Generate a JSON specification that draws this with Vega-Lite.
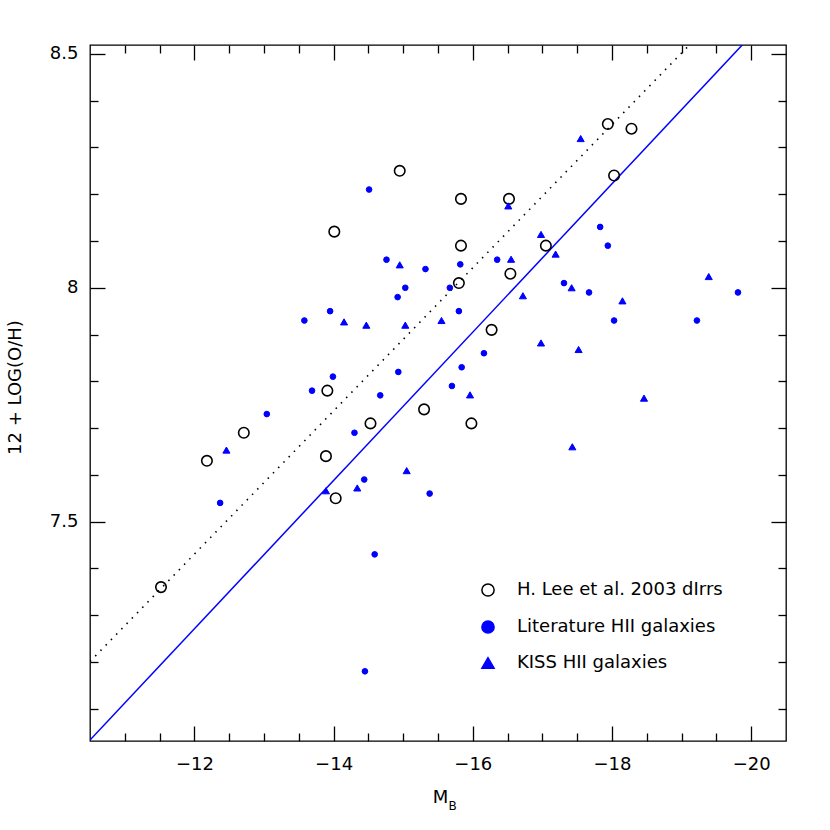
{
  "$schema": "https://vega.github.io/schema/vega-lite/v6.json",
  "width": 696,
  "height": 696,
  "autosize": {"type": "none"},
  "padding": {"left": 90, "top": 45, "right": 44, "bottom": 89},
  "background": "white",
  "datasets": {
    "points": [
      {"series": "H. Lee et al. 2003 dIrrs", "mb": -14.01, "oh": 8.12},
      {"series": "H. Lee et al. 2003 dIrrs", "mb": -13.91, "oh": 7.78},
      {"series": "H. Lee et al. 2003 dIrrs", "mb": -12.71, "oh": 7.69},
      {"series": "H. Lee et al. 2003 dIrrs", "mb": -12.18, "oh": 7.63},
      {"series": "H. Lee et al. 2003 dIrrs", "mb": -13.89, "oh": 7.64},
      {"series": "H. Lee et al. 2003 dIrrs", "mb": -14.03, "oh": 7.55},
      {"series": "H. Lee et al. 2003 dIrrs", "mb": -11.52, "oh": 7.36},
      {"series": "H. Lee et al. 2003 dIrrs", "mb": -14.95, "oh": 8.25},
      {"series": "H. Lee et al. 2003 dIrrs", "mb": -15.83, "oh": 8.19},
      {"series": "H. Lee et al. 2003 dIrrs", "mb": -16.52, "oh": 8.19},
      {"series": "H. Lee et al. 2003 dIrrs", "mb": -15.83, "oh": 8.09},
      {"series": "H. Lee et al. 2003 dIrrs", "mb": -17.05, "oh": 8.09},
      {"series": "H. Lee et al. 2003 dIrrs", "mb": -16.54, "oh": 8.03},
      {"series": "H. Lee et al. 2003 dIrrs", "mb": -15.80, "oh": 8.01},
      {"series": "H. Lee et al. 2003 dIrrs", "mb": -16.27, "oh": 7.91},
      {"series": "H. Lee et al. 2003 dIrrs", "mb": -15.30, "oh": 7.74},
      {"series": "H. Lee et al. 2003 dIrrs", "mb": -15.98, "oh": 7.71},
      {"series": "H. Lee et al. 2003 dIrrs", "mb": -14.53, "oh": 7.71},
      {"series": "H. Lee et al. 2003 dIrrs", "mb": -17.94, "oh": 8.35},
      {"series": "H. Lee et al. 2003 dIrrs", "mb": -18.28, "oh": 8.34},
      {"series": "H. Lee et al. 2003 dIrrs", "mb": -18.03, "oh": 8.24},
      {"series": "Literature HII galaxies", "mb": -13.95, "oh": 7.95},
      {"series": "Literature HII galaxies", "mb": -13.58, "oh": 7.93},
      {"series": "Literature HII galaxies", "mb": -13.99, "oh": 7.81},
      {"series": "Literature HII galaxies", "mb": -13.69, "oh": 7.78},
      {"series": "Literature HII galaxies", "mb": -13.04, "oh": 7.73},
      {"series": "Literature HII galaxies", "mb": -12.37, "oh": 7.54},
      {"series": "Literature HII galaxies", "mb": -14.51, "oh": 8.21},
      {"series": "Literature HII galaxies", "mb": -14.76, "oh": 8.06},
      {"series": "Literature HII galaxies", "mb": -15.32, "oh": 8.04},
      {"series": "Literature HII galaxies", "mb": -15.82, "oh": 8.05},
      {"series": "Literature HII galaxies", "mb": -16.35, "oh": 8.06},
      {"series": "Literature HII galaxies", "mb": -15.03, "oh": 8.0},
      {"series": "Literature HII galaxies", "mb": -14.92, "oh": 7.98},
      {"series": "Literature HII galaxies", "mb": -15.67, "oh": 8.0},
      {"series": "Literature HII galaxies", "mb": -15.80, "oh": 7.95},
      {"series": "Literature HII galaxies", "mb": -16.16, "oh": 7.86},
      {"series": "Literature HII galaxies", "mb": -14.93, "oh": 7.82},
      {"series": "Literature HII galaxies", "mb": -15.84, "oh": 7.83},
      {"series": "Literature HII galaxies", "mb": -14.67, "oh": 7.77},
      {"series": "Literature HII galaxies", "mb": -15.70, "oh": 7.79},
      {"series": "Literature HII galaxies", "mb": -14.30, "oh": 7.69},
      {"series": "Literature HII galaxies", "mb": -14.44, "oh": 7.59},
      {"series": "Literature HII galaxies", "mb": -15.38, "oh": 7.56},
      {"series": "Literature HII galaxies", "mb": -14.59, "oh": 7.43},
      {"series": "Literature HII galaxies", "mb": -14.45, "oh": 7.18},
      {"series": "Literature HII galaxies", "mb": -17.83, "oh": 8.13},
      {"series": "Literature HII galaxies", "mb": -17.94, "oh": 8.09},
      {"series": "Literature HII galaxies", "mb": -17.31, "oh": 8.01},
      {"series": "Literature HII galaxies", "mb": -17.67, "oh": 7.99},
      {"series": "Literature HII galaxies", "mb": -19.81, "oh": 7.99},
      {"series": "Literature HII galaxies", "mb": -18.03, "oh": 7.93},
      {"series": "Literature HII galaxies", "mb": -19.22, "oh": 7.93},
      {"series": "KISS HII galaxies", "mb": -12.46, "oh": 7.653},
      {"series": "KISS HII galaxies", "mb": -13.89, "oh": 7.566},
      {"series": "KISS HII galaxies", "mb": -16.51, "oh": 8.175},
      {"series": "KISS HII galaxies", "mb": -16.98, "oh": 8.114},
      {"series": "KISS HII galaxies", "mb": -17.19, "oh": 8.072},
      {"series": "KISS HII galaxies", "mb": -14.95, "oh": 8.049},
      {"series": "KISS HII galaxies", "mb": -16.55, "oh": 8.061},
      {"series": "KISS HII galaxies", "mb": -16.72, "oh": 7.983},
      {"series": "KISS HII galaxies", "mb": -14.15, "oh": 7.927},
      {"series": "KISS HII galaxies", "mb": -14.47, "oh": 7.92},
      {"series": "KISS HII galaxies", "mb": -15.03, "oh": 7.92},
      {"series": "KISS HII galaxies", "mb": -15.55, "oh": 7.93},
      {"series": "KISS HII galaxies", "mb": -16.98, "oh": 7.882},
      {"series": "KISS HII galaxies", "mb": -15.96, "oh": 7.771},
      {"series": "KISS HII galaxies", "mb": -15.05, "oh": 7.609},
      {"series": "KISS HII galaxies", "mb": -14.34, "oh": 7.572},
      {"series": "KISS HII galaxies", "mb": -17.55, "oh": 8.319},
      {"series": "KISS HII galaxies", "mb": -19.39, "oh": 8.024},
      {"series": "KISS HII galaxies", "mb": -17.42, "oh": 8.0},
      {"series": "KISS HII galaxies", "mb": -18.15, "oh": 7.972},
      {"series": "KISS HII galaxies", "mb": -17.52, "oh": 7.868},
      {"series": "KISS HII galaxies", "mb": -18.46, "oh": 7.764},
      {"series": "KISS HII galaxies", "mb": -17.43, "oh": 7.66}
    ],
    "fits": [
      {"fit": "solid", "mb": -10.5, "oh": 7.033},
      {"fit": "solid", "mb": -21.0, "oh": 8.698},
      {"fit": "dotted", "mb": -10.5, "oh": 7.201},
      {"fit": "dotted", "mb": -21.0, "oh": 8.808}
    ]
  },
  "resolve": {"axis": {"x": "independent", "y": "independent"}},
  "layer": [
    {
      "data": {"name": "fits"},
      "transform": [{"filter": "datum.fit == 'solid'"}],
      "mark": {"type": "line", "color": "#0000ff", "strokeWidth": 1.5, "clip": true},
      "encoding": {
        "x": {"field": "mb", "type": "quantitative",
          "scale": {"domain": [-20.5, -10.5], "reverse": true, "nice": false, "zero": false},
          "axis": {"orient": "bottom", "values": [-12, -14, -16, -18, -20], "tickSize": -15, "labelPadding": 29, "format": "d",
            "title": "M", "titleX": 350, "titleY": 61, "titleAlign": "center", "titleBaseline": "alphabetic"}},
        "y": {"field": "oh", "type": "quantitative",
          "scale": {"domain": [7.031, 8.519], "nice": false, "zero": false},
          "axis": {"orient": "left", "values": [7.5, 8, 8.5], "tickSize": -15, "labelPadding": 27, "format": ".1~f",
            "title": "12 + LOG(O/H)", "titleX": -75, "titleY": 342, "titleAngle": -90, "titleAlign": "center", "titleBaseline": "middle"}}
      }
    },
    {
      "data": {"name": "fits"},
      "transform": [{"filter": "datum.fit == 'dotted'"}],
      "mark": {"type": "line", "color": "black", "strokeWidth": 1.6, "strokeDash": [1.5, 6], "clip": true},
      "encoding": {
        "x": {"field": "mb", "type": "quantitative",
          "scale": {"domain": [-20.5, -10.5], "reverse": true, "nice": false, "zero": false},
          "axis": {"orient": "bottom", "values": [-11, -11.5, -12.5, -13, -13.5, -14.5, -15, -15.5, -16.5, -17, -17.5, -18.5, -19, -19.5], "tickSize": -8, "labels": false,
            "title": "B", "titleFontSize": 12, "titleX": 362, "titleY": 68, "titleAlign": "center", "titleBaseline": "alphabetic"}},
        "y": {"field": "oh", "type": "quantitative",
          "scale": {"domain": [7.031, 8.519], "nice": false, "zero": false},
          "axis": {"orient": "left", "values": [7.1, 7.2, 7.3, 7.4, 7.6, 7.7, 7.8, 7.9, 8.1, 8.2, 8.3, 8.4], "tickSize": -8, "labels": false, "title": null}}
      }
    },
    {
      "data": {"name": "points"},
      "transform": [{"filter": "datum.series == 'H. Lee et al. 2003 dIrrs'"}],
      "mark": {"type": "point", "size": 110, "strokeWidth": 1.6, "opacity": 1},
      "encoding": {
        "x": {"field": "mb", "type": "quantitative",
          "scale": {"domain": [-20.5, -10.5], "reverse": true, "nice": false, "zero": false},
          "axis": {"orient": "top", "values": [-12, -14, -16, -18, -20], "tickSize": -15, "labels": false, "title": null}},
        "y": {"field": "oh", "type": "quantitative",
          "scale": {"domain": [7.031, 8.519], "nice": false, "zero": false},
          "axis": {"orient": "right", "values": [7.5, 8, 8.5], "tickSize": -15, "labels": false, "title": null}},
        "shape": {"field": "series", "type": "nominal",
          "scale": {"domain": ["H. Lee et al. 2003 dIrrs", "Literature HII galaxies", "KISS HII galaxies"], "range": ["circle", "circle", "triangle-up"]}},
        "fill": {"field": "series", "type": "nominal",
          "scale": {"domain": ["H. Lee et al. 2003 dIrrs", "Literature HII galaxies", "KISS HII galaxies"], "range": ["transparent", "#0000ff", "#0000ff"]},
          "legend": {"orient": "none", "legendX": 389, "legendY": 536, "title": null, "padding": 0, "symbolOpacity": 1}},
        "stroke": {"field": "series", "type": "nominal",
          "scale": {"domain": ["H. Lee et al. 2003 dIrrs", "Literature HII galaxies", "KISS HII galaxies"], "range": ["black", "#0000ff", "#0000ff"]}}
      }
    },
    {
      "data": {"name": "points"},
      "transform": [{"filter": "datum.series == 'Literature HII galaxies'"}],
      "mark": {"type": "point", "size": 32, "strokeWidth": 1, "opacity": 1},
      "encoding": {
        "x": {"field": "mb", "type": "quantitative",
          "scale": {"domain": [-20.5, -10.5], "reverse": true, "nice": false, "zero": false},
          "axis": {"orient": "top", "values": [-11, -11.5, -12.5, -13, -13.5, -14.5, -15, -15.5, -16.5, -17, -17.5, -18.5, -19, -19.5], "tickSize": -8, "labels": false, "title": null}},
        "y": {"field": "oh", "type": "quantitative",
          "scale": {"domain": [7.031, 8.519], "nice": false, "zero": false},
          "axis": {"orient": "right", "values": [7.1, 7.2, 7.3, 7.4, 7.6, 7.7, 7.8, 7.9, 8.1, 8.2, 8.3, 8.4], "tickSize": -8, "labels": false, "title": null}},
        "shape": {"field": "series", "type": "nominal",
          "scale": {"domain": ["H. Lee et al. 2003 dIrrs", "Literature HII galaxies", "KISS HII galaxies"], "range": ["circle", "circle", "triangle-up"]}},
        "fill": {"field": "series", "type": "nominal",
          "scale": {"domain": ["H. Lee et al. 2003 dIrrs", "Literature HII galaxies", "KISS HII galaxies"], "range": ["transparent", "#0000ff", "#0000ff"]}},
        "stroke": {"field": "series", "type": "nominal",
          "scale": {"domain": ["H. Lee et al. 2003 dIrrs", "Literature HII galaxies", "KISS HII galaxies"], "range": ["black", "#0000ff", "#0000ff"]}}
      }
    },
    {
      "data": {"name": "points"},
      "transform": [{"filter": "datum.series == 'KISS HII galaxies'"}],
      "mark": {"type": "point", "size": 50, "strokeWidth": 1, "opacity": 1},
      "encoding": {
        "x": {"field": "mb", "type": "quantitative",
          "scale": {"domain": [-20.5, -10.5], "reverse": true, "nice": false, "zero": false},
          "axis": null},
        "y": {"field": "oh", "type": "quantitative",
          "scale": {"domain": [7.031, 8.519], "nice": false, "zero": false},
          "axis": null},
        "shape": {"field": "series", "type": "nominal",
          "scale": {"domain": ["H. Lee et al. 2003 dIrrs", "Literature HII galaxies", "KISS HII galaxies"], "range": ["circle", "circle", "triangle-up"]}},
        "fill": {"field": "series", "type": "nominal",
          "scale": {"domain": ["H. Lee et al. 2003 dIrrs", "Literature HII galaxies", "KISS HII galaxies"], "range": ["transparent", "#0000ff", "#0000ff"]}},
        "stroke": {"field": "series", "type": "nominal",
          "scale": {"domain": ["H. Lee et al. 2003 dIrrs", "Literature HII galaxies", "KISS HII galaxies"], "range": ["black", "#0000ff", "#0000ff"]}}
      }
    }
  ],
  "config": {
    "view": {"stroke": "black", "strokeWidth": 1.3},
    "axis": {
      "domain": false, "grid": false, "tickColor": "black", "tickWidth": 1.3,
      "labelFont": "DejaVu Sans", "labelFontSize": 18, "labelColor": "black", "labelFlush": false, "labelOverlap": false,
      "titleFont": "DejaVu Sans", "titleFontSize": 18, "titleFontWeight": "normal", "titleColor": "black"
    },
    "legend": {
      "labelFont": "DejaVu Sans", "labelFontSize": 18, "labelColor": "black", "labelLimit": 400,
      "symbolSize": 150, "symbolStrokeWidth": 1.5, "symbolOpacity": 1, "labelOffset": 20, "rowPadding": 17
    }
  }
}
